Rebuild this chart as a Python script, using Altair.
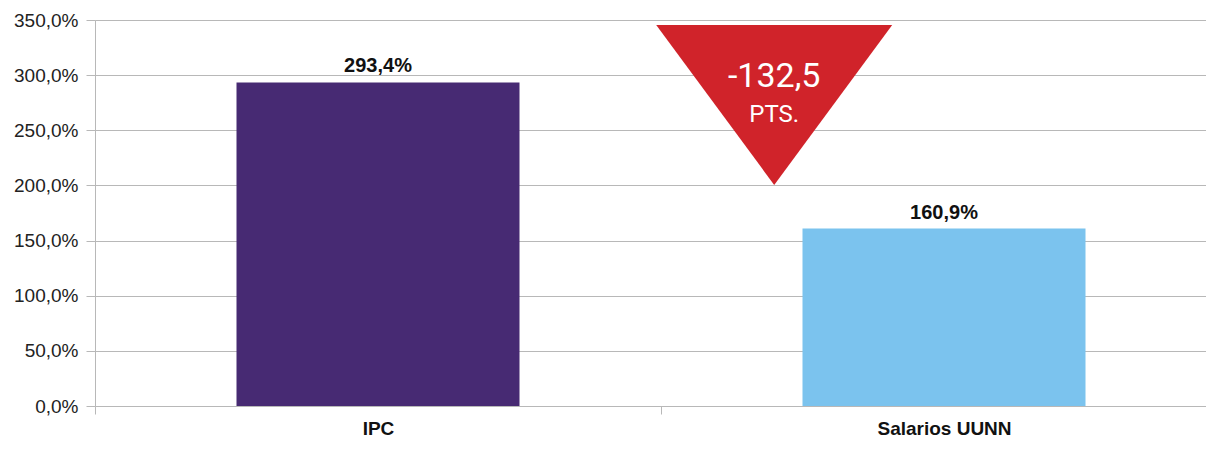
import altair as alt
import pandas as pd

# Data
categories = ["IPC", "Salarios UUNN"]
values = [293.4, 160.9]
bar_colors = ["#472A73", "#7BC3EE"]

# Annotation (difference between the two series)
diff_value = round(values[1] - values[0], 1)
diff_label = f"{diff_value:.1f}".replace(".", ",")
diff_unit = "PTS."

df = pd.DataFrame({
    "cat": categories,
    "val": values,
    "color": bar_colors,
})
df["label"] = [f"{v:.1f}".replace(".", ",") + "%" for v in values]

ann = pd.DataFrame({"cat": [categories[1]], "y": [273.0], "t1": [diff_label], "t2": [diff_unit]})

FONT = "Liberation Sans"
GRID = "#b8b8b8"
ANN_POS = 0.2

x_scale = alt.Scale(paddingInner=0, paddingOuter=0, range=[0, 1132])
x_enc = alt.X(
    "cat:N",
    sort=categories,
    scale=x_scale,
    axis=alt.Axis(
        title=None, labelAngle=0, labelFont=FONT, labelFontSize=19,
        labelFontWeight="bold", labelColor="#111111", labelPadding=5,
        tickBand="extent", tickSize=8, tickColor=GRID, domain=False,
        grid=False,
    ),
)
y_scale = alt.Scale(domain=[0, 350], nice=False)
y_enc = alt.Y(
    "val:Q",
    scale=y_scale,
    axis=alt.Axis(
        title=None, values=[0, 50, 100, 150, 200, 250, 300, 350],
        labelExpr="replace(format(datum.value, '.1f'), '.', ',') + '%'",
        labelFont=FONT, labelFontSize=19, labelColor="#222222",
        labelPadding=8, tickSize=9, tickColor=GRID, domainColor=GRID,
        gridColor=GRID, grid=True,
    ),
)

bars = alt.Chart(df).mark_bar(width=alt.RelativeBandSize(0.5)).encode(
    x=x_enc,
    y=y_enc,
    color=alt.Color("color:N", scale=None),
)

labels = alt.Chart(df).mark_text(
    font=FONT, fontSize=20, fontWeight="bold", color="#111111",
    baseline="alphabetic", dy=-10,
).encode(
    x=alt.X("cat:N", sort=categories),
    y=alt.Y("val:Q", scale=y_scale),
    text="label:N",
)

tri = alt.Chart(ann).mark_point(
    shape="M-1,-0.678L1,-0.678L0,0.678Z", size=55696, filled=True,
    fill="#D0232A", color="#D0232A", opacity=1, strokeWidth=0,
).encode(
    x=alt.X("cat:N", sort=categories, bandPosition=ANN_POS),
    y=alt.Y("y:Q", scale=y_scale),
)

t1 = alt.Chart(ann).mark_text(
    font="Roboto", fontSize=34, color="white", baseline="alphabetic",
    dy=-18,
).encode(
    x=alt.X("cat:N", sort=categories, bandPosition=ANN_POS),
    y=alt.Y("y:Q", scale=y_scale),
    text="t1:N",
)

t2 = alt.Chart(ann).mark_text(
    font="Roboto", fontSize=24, color="white", baseline="alphabetic",
    dy=17,
).encode(
    x=alt.X("cat:N", sort=categories, bandPosition=ANN_POS),
    y=alt.Y("y:Q", scale=y_scale),
    text="t2:N",
)

chart = alt.layer(bars, labels, tri, t1, t2).properties(
    width=1111, height=386,
    autosize=alt.AutoSizeParams(type="none"),
    padding={"left": 87, "top": 12, "right": 0, "bottom": 36},
).configure_view(stroke=None).configure(background="white")

chart.save("out.html", embed_options={"renderer": "svg", "actions": False})
